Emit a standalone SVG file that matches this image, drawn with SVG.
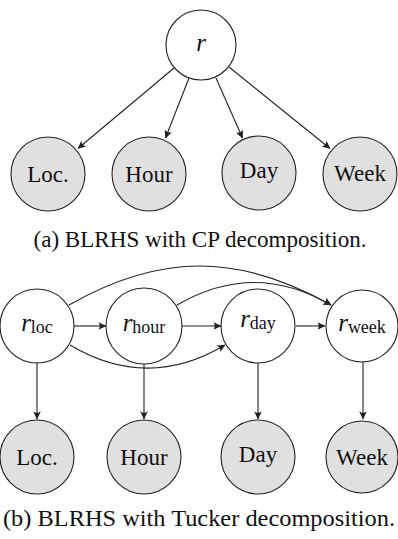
<svg xmlns="http://www.w3.org/2000/svg" width="398" height="539" viewBox="0 0 398 539">
<style>
.lat{fill:#ffffff;stroke:#222;stroke-width:1.1}
.obs{fill:#e0e0e0;stroke:#222;stroke-width:1.1}
text{font-family:'Liberation Serif','Times New Roman',serif;fill:#111;text-anchor:middle}
.lbl{font-size:23px}
.var{font-size:25px;font-style:italic}
.sub{font-style:normal;font-size:18px}
.cap{font-size:24px}
.edge{fill:none;stroke:#222;stroke-width:1.1;marker-end:url(#ah)}
</style>
<defs>
<marker id="ah" viewBox="-9 -5 10 10" refX="0" refY="0" markerWidth="10" markerHeight="10" markerUnits="userSpaceOnUse" orient="auto" overflow="visible">
<path d="M0.5,0 L-7.5,-3.8 Q-5,0 -7.5,3.8 Z" fill="#222"/>
</marker>
</defs>

<g id="a-connectors">
<line class="edge" x1="174" y1="68" x2="78" y2="148.5"/>
<line class="edge" x1="189" y1="78" x2="165.5" y2="138"/>
<line class="edge" x1="216" y1="78" x2="242.5" y2="138"/>
<line class="edge" x1="229" y1="67" x2="330" y2="148.5"/>
</g>

<g id="a-r"><circle class="lat" cx="201" cy="45" r="35"/><text class="var" x="201" y="51" font-family="Liberation Serif">r</text></g>
<g id="a-loc"><circle class="obs" cx="48" cy="174" r="37"/><text class="lbl" x="48" y="182" font-family="Liberation Serif">Loc.</text></g>
<g id="a-hour"><circle class="obs" cx="149" cy="174" r="37"/><text class="lbl" x="149" y="182" font-family="Liberation Serif">Hour</text></g>
<g id="a-day"><circle class="obs" cx="259" cy="173" r="37"/><text class="lbl" x="259" y="178" font-family="Liberation Serif">Day</text></g>
<g id="a-week"><circle class="obs" cx="360" cy="174" r="37"/><text class="lbl" x="360" y="181" font-family="Liberation Serif">Week</text></g>

<text id="cap-a" class="cap" x="200" y="247" textLength="333" lengthAdjust="spacingAndGlyphs" font-family="Liberation Serif">(a) BLRHS with CP decomposition.</text>

<g id="b-connectors">
<line class="edge" x1="74" y1="326" x2="106" y2="326"/>
<line class="edge" x1="182" y1="326" x2="221" y2="326"/>
<line class="edge" x1="296" y1="326" x2="325" y2="326"/>
<path class="edge" d="M69,305 C160,253 239,253 331,305"/>
<path class="edge" d="M177,305 C229,275 279,275 331,305"/>
<path class="edge" d="M70,345 C122,376 173,376 225,345"/>
<line class="edge" x1="37" y1="363" x2="37" y2="419"/>
<line class="edge" x1="144" y1="364" x2="144" y2="419"/>
<line class="edge" x1="258" y1="363" x2="258" y2="419"/>
<line class="edge" x1="363" y1="362" x2="363" y2="419"/>
</g>

<g id="b-rloc"><circle class="lat" cx="37" cy="326" r="37"/><text class="var" x="37" y="331" font-family="Liberation Serif">r<tspan class="sub" dy="2">loc</tspan></text></g>
<g id="b-rhour"><circle class="lat" cx="144" cy="326" r="38"/><text class="var" x="144" y="331" font-family="Liberation Serif">r<tspan class="sub" dy="2">hour</tspan></text></g>
<g id="b-rday"><circle class="lat" cx="258" cy="326" r="37"/><text class="var" x="258" y="327" font-family="Liberation Serif">r<tspan class="sub" dy="2">day</tspan></text></g>
<g id="b-rweek"><circle class="lat" cx="362" cy="326" r="36"/><text class="var" x="362" y="331" font-family="Liberation Serif">r<tspan class="sub" dy="2">week</tspan></text></g>

<g id="b-loc"><circle class="obs" cx="37" cy="457" r="37"/><text class="lbl" x="37" y="465" font-family="Liberation Serif">Loc.</text></g>
<g id="b-hour"><circle class="obs" cx="144" cy="457" r="37"/><text class="lbl" x="144" y="465" font-family="Liberation Serif">Hour</text></g>
<g id="b-day"><circle class="obs" cx="258" cy="457" r="37"/><text class="lbl" x="258" y="462" font-family="Liberation Serif">Day</text></g>
<g id="b-week"><circle class="obs" cx="362" cy="457" r="36"/><text class="lbl" x="362" y="465" font-family="Liberation Serif">Week</text></g>

<text id="cap-b" class="cap" x="199" y="526" textLength="392" lengthAdjust="spacingAndGlyphs" font-family="Liberation Serif">(b) BLRHS with Tucker decomposition.</text>
</svg>
